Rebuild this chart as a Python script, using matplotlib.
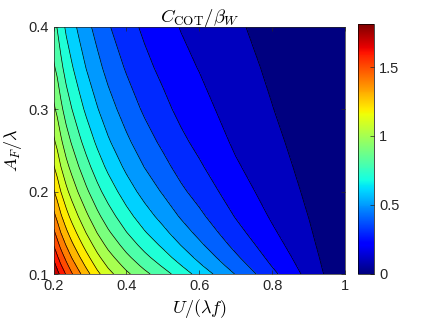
import numpy as np
import matplotlib
matplotlib.use('Agg')
import matplotlib.pyplot as plt
from matplotlib.cm import ScalarMappable
from matplotlib.colors import Normalize

# U/(lambda f) grid and A_F/lambda grid
u_ratio = [0.2, 0.21, 0.22, 0.235, 0.25, 0.27, 0.29, 0.32, 0.35, 0.4, 0.45, 0.5, 0.55, 0.6, 0.7, 0.8, 0.9, 1.0]
amp_ratio = [0.1, 0.11, 0.12, 0.135, 0.15, 0.17, 0.2, 0.23, 0.26, 0.3, 0.35, 0.4]

# C_COT / beta_W, one row per amp_ratio value
cot = [
    [1.810, 1.737, 1.672, 1.589, 1.511, 1.422, 1.338, 1.225, 1.134, 1.021, 0.926, 0.841, 0.754, 0.664, 0.495, 0.326, 0.167, 0.005],
    [1.746, 1.675, 1.611, 1.529, 1.453, 1.366, 1.284, 1.174, 1.086, 0.971, 0.875, 0.790, 0.703, 0.616, 0.453, 0.296, 0.152, 0.005],
    [1.685, 1.617, 1.554, 1.473, 1.398, 1.313, 1.233, 1.126, 1.039, 0.925, 0.828, 0.743, 0.657, 0.574, 0.417, 0.271, 0.140, 0.005],
    [1.601, 1.537, 1.474, 1.394, 1.322, 1.239, 1.162, 1.059, 0.975, 0.861, 0.765, 0.682, 0.598, 0.520, 0.372, 0.240, 0.124, 0.006],
    [1.525, 1.463, 1.401, 1.322, 1.253, 1.172, 1.097, 0.998, 0.916, 0.804, 0.709, 0.628, 0.547, 0.474, 0.334, 0.215, 0.112, 0.006],
    [1.432, 1.375, 1.314, 1.236, 1.169, 1.092, 1.020, 0.925, 0.846, 0.736, 0.644, 0.566, 0.489, 0.422, 0.294, 0.188, 0.099, 0.007],
    [1.312, 1.259, 1.200, 1.124, 1.061, 0.987, 0.919, 0.830, 0.755, 0.650, 0.563, 0.490, 0.419, 0.361, 0.247, 0.158, 0.084, 0.007],
    [1.210, 1.160, 1.102, 1.029, 0.970, 0.899, 0.834, 0.750, 0.678, 0.579, 0.497, 0.430, 0.365, 0.313, 0.212, 0.136, 0.073, 0.008],
    [1.121, 1.075, 1.019, 0.947, 0.891, 0.823, 0.762, 0.682, 0.613, 0.520, 0.443, 0.380, 0.321, 0.274, 0.184, 0.119, 0.065, 0.008],
    [1.021, 0.978, 0.924, 0.855, 0.802, 0.738, 0.680, 0.606, 0.541, 0.455, 0.384, 0.327, 0.274, 0.234, 0.156, 0.102, 0.056, 0.009],
    [0.916, 0.878, 0.826, 0.760, 0.711, 0.651, 0.597, 0.529, 0.468, 0.390, 0.326, 0.276, 0.229, 0.196, 0.130, 0.086, 0.048, 0.009],
    [0.830, 0.795, 0.745, 0.682, 0.636, 0.580, 0.530, 0.466, 0.409, 0.338, 0.281, 0.236, 0.195, 0.167, 0.110, 0.074, 0.042, 0.010],
]

levels = [0.0, 0.1, 0.2, 0.3, 0.4, 0.5, 0.6, 0.7, 0.8, 0.9, 1.0,
          1.1, 1.2, 1.3, 1.4, 1.5, 1.6, 1.7, 1.8, 1.9]
cmax = 1.81
xticks = [0.2, 0.4, 0.6, 0.8, 1.0]
xtick_labels = ['0.2', '0.4', '0.6', '0.8', '1']
yticks = [0.1, 0.2, 0.3, 0.4]
ytick_labels = ['0.1', '0.2', '0.3', '0.4']
cticks = [0, 0.5, 1, 1.5]
ctick_labels = ['0', '0.5', '1', '1.5']

plt.rcParams['mathtext.fontset'] = 'cm'
plt.rcParams['font.family'] = 'Liberation Sans'

fig = plt.figure(figsize=(4.32, 3.24), dpi=100)
ax = fig.add_axes([53.5/432, 50/324, 291.5/432, 247.5/324])
cax = fig.add_axes([358.3/432, 50.3/324, 16/432, 249.4/324])

cmap = plt.get_cmap('jet')
# matlab style: each band takes the colour of its lower level
band_colors = [cmap(l / cmax) for l in levels[:-1]]
ax.contourf(u_ratio, amp_ratio, cot, levels=levels, colors=band_colors)
ax.contour(u_ratio, amp_ratio, cot, levels=levels[1:-1], colors='k', linewidths=0.5)

ax.set_xlim(0.2, 1)
ax.set_ylim(0.1, 0.4)
ax.set_xticks(xticks, xtick_labels)
ax.set_yticks(yticks, ytick_labels)
ax.tick_params(direction='in', top=True, right=True, length=3, labelsize=10.5,
               colors='#262626', width=0.5)
for s in ax.spines.values():
    s.set_linewidth(0.5)
    s.set_color('#262626')

ax.set_title(r'$C_{\mathrm{COT}}/\beta_W$', fontsize=13.5, pad=3)
ax.set_xlabel(r'$U/(\lambda f)$', fontsize=13, labelpad=3)
ax.set_ylabel(r'$A_F/\lambda$', fontsize=13, labelpad=3)

cb = fig.colorbar(ScalarMappable(Normalize(0, cmax), cmap), cax=cax)
cb.set_ticks(cticks, labels=ctick_labels)
cax.tick_params(direction='in', length=3, labelsize=10.5, colors='#262626', width=0.5)
cb.outline.set_linewidth(0.5)

fig.savefig('out.png')
